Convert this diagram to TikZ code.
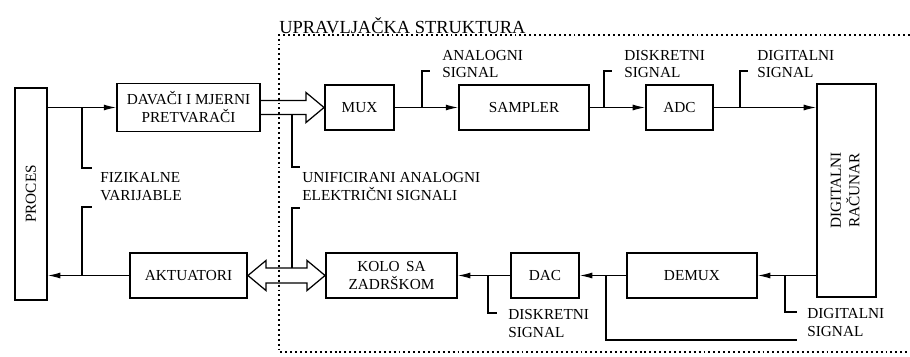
\documentclass[tikz,border=0pt]{standalone}
\usepackage{fontspec}
\setmainfont{Liberation Serif}
\usepackage{graphicx}
\usetikzlibrary{arrows.meta,calc}

\begin{document}
\begin{tikzpicture}[x=0.02cm,y=-0.02cm,
          blk/.style={draw,line width=1.1pt,inner sep=1pt,align=center,font=\fontsize{8.7}{10.2}\selectfont},
          lbl/.style={anchor=west,align=left,inner sep=0pt,font=\fontsize{8.7}{10.2}\selectfont},
          sig/.style={line width=0.6pt,-{Latex[length=7pt,width=3.4pt]}},
          lead/.style={line width=0.6pt},
          bus/.style={line width=0.7pt,line join=miter}]
        \useasboundingbox (0,0) rectangle (910,356);
        % okvir
        \draw[line width=1.1pt,dash pattern=on 1.1pt off 1.7pt] (910,35) -- (279,35) -- (279,352) -- (910,352);
        \node[anchor=base west,inner sep=0pt,font=\fontsize{10.5}{12}\selectfont] (naslov) at (279,33) {UPRAVLJAČKA STRUKTURA};
        % blokovi
        \node[blk,minimum width=0.64cm,minimum height=4.24cm] (proc)    at (31,194)     {\rotatebox{90}{PROCES}};
        \node[blk,minimum width=2.86cm,minimum height=0.96cm] (davac)   at (188.5,107.5) {DAVAČI I MJERNI\\PRETVARAČI};
        \node[blk,minimum width=1.38cm,minimum height=0.9cm]  (mux)     at (359.5,107.5) {MUX};
        \node[blk,minimum width=2.6cm,minimum height=0.9cm]   (sampler) at (524,107.5)   {SAMPLER};
        \node[blk,minimum width=1.34cm,minimum height=0.9cm]  (adc)     at (679.5,107.5) {ADC};
        \node[blk,minimum width=1.18cm,minimum height=4.26cm] (racunar) at (846.5,190.5) {\rotatebox{90}{\begin{tabular}{@{}c@{}}DIGITALNI\\RAČUNAR\end{tabular}}};
        \node[blk,minimum width=2.34cm,minimum height=0.9cm]  (akt)     at (188.5,275.5) {AKTUATORI};
        \node[blk,minimum width=2.62cm,minimum height=0.9cm]  (kolo)    at (391.5,275.5) {KOLO\, SA\\ZADRŠKOM};
        \node[blk,minimum width=1.36cm,minimum height=0.9cm]  (dac)     at (545,275.5)   {DAC};
        \node[blk,minimum width=2.6cm,minimum height=0.9cm]   (demux)   at (692,275.5)   {DEMUX};
        % signali
        \draw[sig] (proc.east |- davac.west) -- (davac.west);
        \draw[sig] (mux) -- (sampler);
        \draw[sig] (sampler) -- (adc);
        \draw[sig] (adc.east) -- (adc.east -| racunar.west);
        \draw[sig] (demux.east -| racunar.west) -- (demux.east);
        \draw[sig] (demux) -- (dac);
        \draw[sig] (dac) -- (kolo);
        \draw[sig] (akt.west) -- (akt.west -| proc.east);
        % siroke strelice
        \draw[bus] ($(davac.east)+(0,-7)$) -- ($(mux.west)+(-18,-7)$) -- ++(0,-8) -- (mux.west)
          -- ($(mux.west)+(-18,15)$) -- ++(0,-8) -- ($(davac.east)+(0,7)$);
        \draw[bus] (akt.east) -- ($(akt.east)+(18,-15)$) -- ++(0,7.5) -- ($(kolo.west)+(-18,-7.5)$) -- ++(0,-7.5)
          -- (kolo.west) -- ($(kolo.west)+(-18,15)$) -- ++(0,-7.5) -- ($(akt.east)+(18,7.5)$) -- ++(0,7.5) -- cycle;
        % oznake
        \draw[lead] (82,107.5) |- (92,168);
        \draw[lead] (82,275.5) |- (92,207);
        \draw[lead] (292,115) |- (300,167);
        \draw[lead] (292,268) |- (300,208);
        \draw[lead] (422,107.5) |- (430,71);
        \draw[lead] (604,107.5) |- (612,71);
        \draw[lead] (740,107.5) |- (748,71);
        \draw[lead] (488,275.5) |- (497,313);
        \draw[lead] (785,275.5) |- (797,312);
        \draw[lead] (606,275.5) |- (797,340);
        \node[lbl] (fiz)   at (100,186.5) {FIZIKALNE\\VARIJABLE};
        \node[lbl] (unif)  at (302,186.5) {UNIFICIRANI ANALOGNI\\ELEKTRIČNI SIGNALI};
        \node[lbl] (anal)  at (442,64)    {ANALOGNI\\SIGNAL};
        \node[lbl] (disk1) at (624,64)    {DISKRETNI\\SIGNAL};
        \node[lbl] (digi1) at (757,64)    {DIGITALNI\\SIGNAL};
        \node[lbl] (disk2) at (508,323.5) {DISKRETNI\\SIGNAL};
        \node[lbl] (digi2) at (807,322.5) {DIGITALNI\\SIGNAL};
      \end{tikzpicture}
\end{document}
